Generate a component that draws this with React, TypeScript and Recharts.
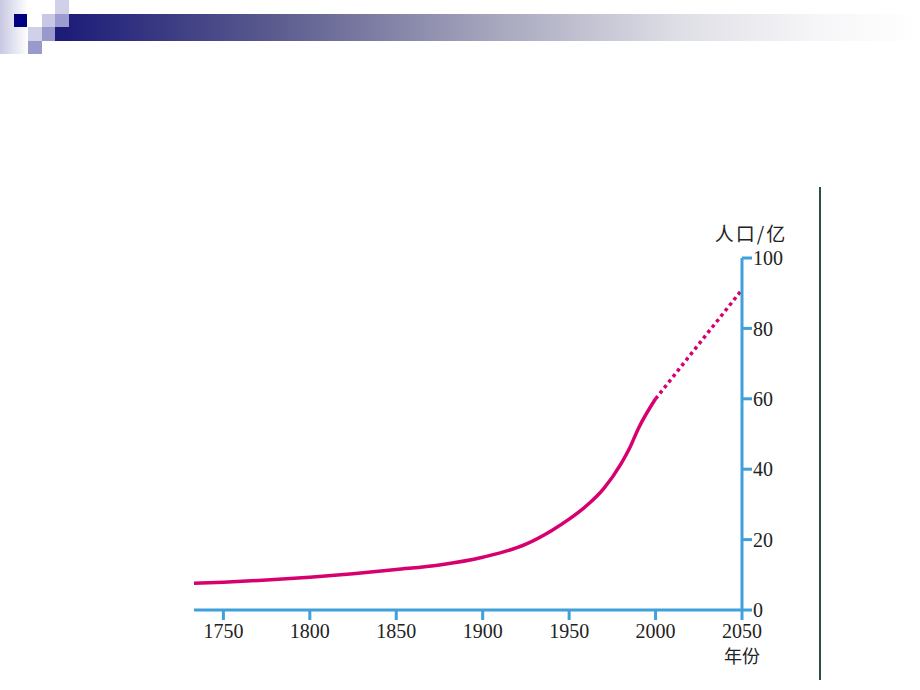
import { LineChart, Line, XAxis, YAxis } from 'recharts';

const years = [1733, 1750, 1775, 1800, 1825, 1850, 1875, 1900, 1925, 1940, 1950, 1960, 1970, 1980, 1985, 1990, 2000, 2050];
const population = [7.6, 7.9, 8.5, 9.3, 10.3, 11.5, 12.8, 15, 18.7, 22.6, 25.8, 29.6, 34.5, 41.5, 46, 51.5, 60, null];
const projection = [null, null, null, null, null, null, null, null, null, null, null, null, null, null, null, null, 60, 91];
const xTicks = [1750, 1800, 1850, 1900, 1950, 2000, 2050];
const yTicks = [0, 20, 40, 60, 80, 100];

const data = years.map((year, i) => ({ year, population: population[i], projection: projection[i] }));

const AXIS = '#3fa0dc';
const LINE = '#d6006f';
const SERIF = '"Liberation Serif", "DejaVu Serif", serif';
const CJK = '"Noto Sans CJK SC", sans-serif';

function YearTick({ x, y, payload }: any) {
  return (
    <g>
      <text x={x} y={y} dy="0.71em" textAnchor="middle" fontFamily={SERIF} fontSize={20} fill="#222">
        {payload.value}
      </text>
      {payload.value === 2050 && (
        <text x={x} y={y + 26} dy="0.71em" textAnchor="middle" fontFamily={CJK} fontSize={18} fill="#222">
          年份
        </text>
      )}
    </g>
  );
}

function UnitLabel({ viewBox }: any) {
  return (
    <text x={viewBox.x + 9} y={viewBox.y - 17} textAnchor="middle" fontFamily={CJK} fontSize={19} letterSpacing={2} fill="#222">
      人口/亿
    </text>
  );
}

function Sq({ x, y, c }: { x: number; y: number; c: string }) {
  return <div style={{ position: 'absolute', left: x, top: y, width: 13.5, height: 13.5, background: c }} />;
}

export default function App() {
  return (
    <div style={{ position: 'absolute', left: 0, top: 0, width: 920, height: 690, background: '#fff', overflow: 'hidden' }}>
      <div style={{ position: 'absolute', left: 0, top: 0, width: 28, height: 54, background: 'linear-gradient(to right, #c8c8e4, #ffffff)' }} />
      <div style={{ position: 'absolute', left: 55, top: 14, width: 865, height: 27, background: 'linear-gradient(to right, #1a1a78, #5a5a8e 25%, #a4a4bc 50%, #dedee6 72%, #f6f6f8 88%, #ffffff)' }} />
      <Sq x={13.5} y={13.5} c="#000080" />
      <Sq x={55} y={0} c="#d0d0e8" />
      <Sq x={41.5} y={13.5} c="#c8c8e4" />
      <Sq x={55} y={13.5} c="#9c9cd0" />
      <Sq x={28} y={27} c="#d0d0e8" />
      <Sq x={41.5} y={27} c="#9999cc" />
      <Sq x={28} y={40.5} c="#9999cc" />
      <div style={{ position: 'absolute', left: 819, top: 187, width: 2, height: 493, background: '#2b4f44' }} />
      <LineChart width={920} height={690} data={data} margin={{ top: 258, right: 118, left: 194, bottom: 48 }}>
        <XAxis
          dataKey="year"
          type="number"
          domain={[1733, 2050]}
          ticks={xTicks}
          allowDataOverflow
          height={32}
          axisLine={{ stroke: AXIS, strokeWidth: 3 }}
          tickLine={{ stroke: AXIS, strokeWidth: 3 }}
          tickSize={10}
          tickMargin={4}
          tick={<YearTick />}
        />
        <YAxis
          orientation="right"
          domain={[0, 100]}
          ticks={yTicks}
          width={60}
          axisLine={{ stroke: AXIS, strokeWidth: 3 }}
          tickLine={{ stroke: AXIS, strokeWidth: 3 }}
          tickSize={10}
          tickMargin={1}
          tick={{ fontFamily: SERIF, fontSize: 20, fill: '#222' }}
          label={<UnitLabel />}
        />
        <Line
          dataKey="population"
          type="monotone"
          stroke={LINE}
          strokeWidth={3.5}
          dot={false}
          connectNulls={false}
          isAnimationActive={false}
        />
        <Line
          dataKey="projection"
          type="linear"
          stroke={LINE}
          strokeWidth={3.5}
          strokeDasharray="3.5 3.5"
          dot={false}
          isAnimationActive={false}
        />
      </LineChart>
    </div>
  );
}
